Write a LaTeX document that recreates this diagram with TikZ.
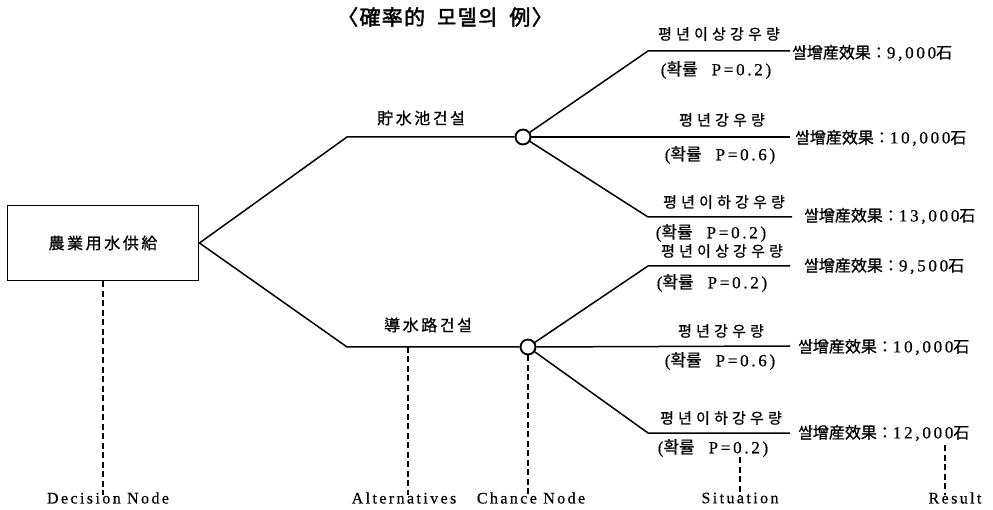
\documentclass[tikz,border=0pt]{standalone}
\usepackage{fontspec}
\setmainfont{Liberation Serif}
\newfontfamily\cjk[FakeBold=0.8]{Noto Sans CJK KR}
\newfontfamily\cjktitle[FakeBold=2,LetterSpace=6]{Noto Sans CJK KR}
\newfontfamily\cjksp[FakeBold=0.8,LetterSpace=28]{Noto Sans CJK KR}
\newfontfamily\cjkbox[FakeBold=0.8,LetterSpace=16]{Noto Sans CJK KR}
\newfontfamily\latsp[FakeBold=0.6,LetterSpace=16]{Liberation Serif}
\newfontfamily\latfoot[FakeBold=0.4,LetterSpace=15]{Liberation Serif}
\begin{document}
\begin{tikzpicture}[x=1pt,y=-1pt,
  branch/.style={line width=1.5pt},
  guide/.style={line width=1.3pt, dash pattern=on 6pt off 3.5pt},
  chance/.style={circle, draw, line width=1.9pt, minimum size=15pt, inner sep=0pt, fill=white},
  decbox/.style={draw, line width=1.9pt, minimum width=191pt, minimum height=75pt, font=\cjkbox\fontsize{16}{18}\selectfont},
  altlab/.style={inner sep=0pt, font=\cjkbox\fontsize{16}{18}\selectfont},
  sitlab/.style={inner sep=0pt, font=\cjksp\fontsize{15}{17}\selectfont},
  problab/.style={inner sep=0pt, font=\latsp\fontsize{17}{19}\selectfont},
  reslab/.style={inner sep=0pt, anchor=west, font=\cjk\fontsize{16}{18}\selectfont},
  footlab/.style={inner sep=0pt, font=\latfoot\fontsize{16}{18}\selectfont},
  titlelab/.style={inner sep=0pt, font=\cjktitle\fontsize{21}{23}\selectfont}]
\useasboundingbox (0,0) rectangle (993,510);

% title
\node[titlelab] (title) at (445,17) {〈確率的\ \ 모델의\ \ 例〉};

% decision node
\node[decbox] (dec) at (103,243) {農業用水供給};

% alternatives
\coordinate (k1) at (347,137);
\coordinate (k2) at (347,347);
\node[chance] (c1) at (523,137) {};
\node[chance] (c2) at (528,347) {};
\draw[branch] (dec.east) -- (k1) -- (c1);
\draw[branch] (dec.east) -- (k2) -- (c2);
\node[altlab] (alt1) at (421,118) {貯水池건설};
\node[altlab] (alt2) at (428,325) {導水路건설};

% situations, upper set
\coordinate (a1) at (648,51);
\coordinate (e1) at (790,51);
\coordinate (e2) at (790,137);
\coordinate (a3) at (648,217);
\coordinate (e3) at (792,217);
\draw[branch] (c1) -- (a1) -- (e1);
\draw[branch] (c1) -- (e2);
\draw[branch] (c1) -- (a3) -- (e3);
% situations, lower set
\coordinate (a4) at (648,266);
\coordinate (e4) at (790,266);
\coordinate (e5) at (790,346);
\coordinate (a6) at (648,433);
\coordinate (e6) at (790,433);
\draw[branch] (c2) -- (a4) -- (e4);
\draw[branch] (c2) -- (e5);
\draw[branch] (c2) -- (a6) -- (e6);

% situation labels
\node[sitlab] (s1) at (719,34) {평년이상강우량};
\node[problab] (p1) at (716,70) {({\cjk 확률}\ \ P=0.2)};
\node[sitlab] (s2) at (722,120) {평년강우량};
\node[problab] (p2) at (720,155) {({\cjk 확률}\ \ P=0.6)};
\node[sitlab] (s3) at (724,202) {평년이하강우량};
\node[problab] (p3) at (711,233) {({\cjk 확률}\ \ P=0.2)};
\node[sitlab] (s4) at (722,251) {평년이상강우량};
\node[problab] (p4) at (712,283) {({\cjk 확률}\ \ P=0.2)};
\node[sitlab] (s5) at (721,331) {평년강우량};
\node[problab] (p5) at (720,361) {({\cjk 확률}\ \ P=0.6)};
\node[sitlab] (s6) at (721,418) {평년이하강우량};
\node[problab] (p6) at (713,448) {({\cjk 확률}\ \ P=0.2)};

% results
\node[reslab] (r1) at (792,53) {쌀增産效果：{\latsp\fontsize{17}{19}\selectfont 9,\,000}石};
\node[reslab] (r2) at (795,138) {쌀增産效果：{\latsp\fontsize{17}{19}\selectfont 10,\,000}石};
\node[reslab] (r3) at (804,216) {쌀增産效果：{\latsp\fontsize{17}{19}\selectfont 13,\,000}石};
\node[reslab] (r4) at (804,266) {쌀增産效果：{\latsp\fontsize{17}{19}\selectfont 9,\,500}石};
\node[reslab] (r5) at (798,347) {쌀增産效果：{\latsp\fontsize{17}{19}\selectfont 10,\,000}石};
\node[reslab] (r6) at (798,433) {쌀增産效果：{\latsp\fontsize{17}{19}\selectfont 12,\,000}石};

% footer labels
\node[footlab] (f1) at (108,498) {Decision Node};
\node[footlab] (f2) at (404,498) {Alternatives};
\node[footlab] (f3) at (531,498) {Chance Node};
\node[footlab] (f4) at (740,498) {Situation};
\node[footlab] (f5) at (955,498) {Result};

\coordinate (g2) at (408,347);
\coordinate (g4) at (740,457);
\coordinate (g5) at (945,445);
\draw[guide] (dec.south) -- ([yshift=-3pt]dec.south |- f1.north);
\draw[guide] (g2) -- ([yshift=-3pt]g2 |- f2.north);
\draw[guide] (c2.south) -- ([yshift=-3pt]c2.south |- f3.north);
\draw[guide] (g4) -- ([yshift=-3pt]g4 |- f4.north);
\draw[guide] (g5) -- ([yshift=-3pt]g5 |- f5.north);
\end{tikzpicture}
\end{document}
